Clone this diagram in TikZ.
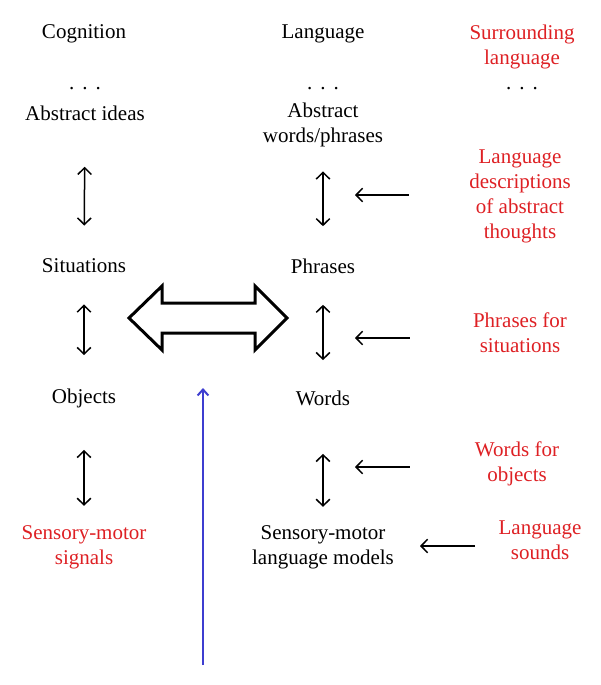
\documentclass[tikz,border=0pt]{standalone}
\usepackage{fontspec}
\setmainfont{Liberation Serif}
\usepackage{tikz}
\usetikzlibrary{arrows.meta}
\definecolor{textred}{RGB}{222,32,36}
\definecolor{arrowblue}{RGB}{62,62,208}

\begin{document}
\begin{tikzpicture}[x=0.5pt,y=-0.5pt,font=\fontsize{10.5}{12.5}\selectfont]
  \tikzstyle{every node}=[align=center,inner sep=0pt]
  \tikzstyle{red text}=[text=textred]
  \tikzstyle{link}=[line width=0.75pt,
    arrows={Straight Barb[length=3.3pt,width=6.8pt]-Straight Barb[length=3.3pt,width=6.8pt]}]
  \tikzstyle{pointer}=[line width=0.75pt,-{Straight Barb[length=3.3pt,width=6.8pt]}]

  \useasboundingbox (0,0) rectangle (600,685);

  % headings
  \node              (cog)   at (84,34)   {Cognition};
  \node              (lang)  at (323,34)  {Language};
  \node[red text]    (surr)  at (522,47)
    {\fontsize{10.5}{14}\selectfont Surrounding\\language};
  \node              (dotsa) at (85,89)   {.\hspace{4pt}.\hspace{4pt}.};
  \node              (dotsb) at (323,89)  {.\hspace{4pt}.\hspace{4pt}.};
  \node              (dotsc) at (522,89)  {.\hspace{4pt}.\hspace{4pt}.};

  % cognition column
  \node              (ideas) at (85,113)  {Abstract ideas};
  \node              (sit)   at (84,266)  {Situations};
  \node              (obj)   at (84,398)  {Objects};
  \node[red text]    (sens)  at (84,547)
    {\fontsize{10.5}{13.5}\selectfont Sensory-motor\\signals};

  % language column
  \node              (absw)  at (323,125) {Abstract\\words/phrases};
  \node              (phr)   at (323,266) {Phrases};
  \node              (words) at (323,398) {Words};
  \node              (smlm)  at (323,547)
    {\fontsize{10.5}{13.5}\selectfont Sensory-motor\\language models};

  % surrounding language column
  \node[red text]    (desc)  at (520,196)
    {\fontsize{10.5}{13}\selectfont Language\\descriptions\\of abstract\\thoughts};
  \node[red text]    (pfs)   at (520,333)
    {\fontsize{10.5}{11.2}\selectfont Phrases for\\situations};
  \node[red text]    (wfo)   at (517,464)
    {\fontsize{10.5}{11.2}\selectfont Words for\\objects};
  \node[red text]    (snd)   at (540,540)
    {\fontsize{10.5}{12}\selectfont Language\\sounds};

  \coordinate (dh) at (355,195);
  \coordinate (ph) at (355,338);
  \coordinate (wh) at (355,467);
  \coordinate (sh) at (420,546);
  \coordinate (bluebot) at (203,665);
  \coordinate (bluetop) at (203,388);

  \path[link]
  (ideas) edge [shorten <=23pt,shorten >=16.5pt] (sit)
  (sit)   edge [shorten <=15.5pt,shorten >=16.5pt] (obj)
  (obj)   edge [shorten <=21pt,shorten >=9.5pt]  (sens)
  (absw)  edge [shorten <=12pt,shorten >=16pt]   (phr)
  (phr)   edge [shorten <=15.5pt,shorten >=15pt] (words)
  (words) edge [shorten <=24pt,shorten >=9pt]    (smlm)
  ;

  \path[pointer]
  (desc.west |- dh) edge [shorten <=30pt]   (dh)
  (pfs.west |- ph)  edge [shorten <=31.5pt] (ph)
  (wfo.west |- wh)  edge [shorten <=32.5pt] (wh)
  (snd.west |- sh)  edge [shorten <=11.5pt] (sh)
  ;

  % hollow double arrow between the two columns
  \draw[line width=1.5pt,line join=miter]
    (129,318) -- (162,286) -- (162,303) -- (255,303) -- (255,286)
    -- (287,318) -- (255,350) -- (255,333) -- (162,333) -- (162,350)
    -- cycle;

  \draw[arrowblue,line width=1pt,-{Straight Barb[length=3pt,width=5.4pt]}]
    (bluebot) -- (bluetop);
\end{tikzpicture}
\end{document}
